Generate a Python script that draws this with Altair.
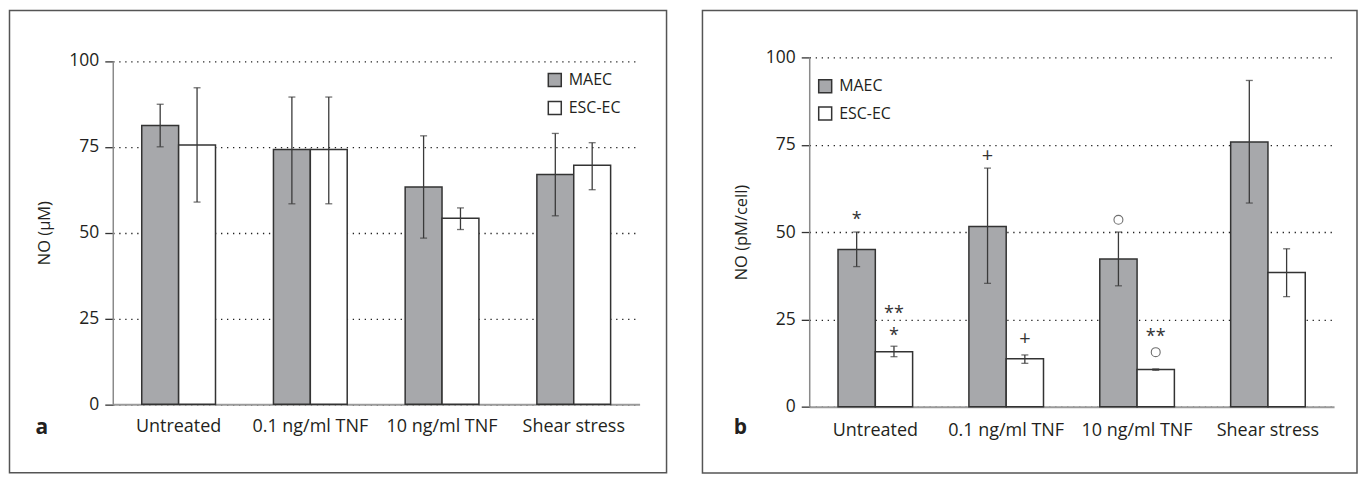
import altair as alt
import pandas as pd

conditions = ["Untreated", "0.1 ng/ml TNF", "10 ng/ml TNF", "Shear stress"]
series = ["MAEC", "ESC-EC"]
y_ticks = [0, 25, 50, 75, 100]

# Panel a: NO (µM)
a_maec = [81.2, 74.2, 63.3, 66.9]
a_maec_lo = [75.0, 58.4, 48.4, 54.9]
a_maec_hi = [87.4, 89.5, 78.2, 78.9]
a_esc = [75.5, 74.2, 54.2, 69.6]
a_esc_lo = [58.9, 58.4, 50.9, 62.5]
a_esc_hi = [92.2, 89.5, 57.2, 76.2]

# Panel b: NO (pM/cell)
b_maec = [45.0, 51.6, 42.3, 75.8]
b_maec_lo = [40.1, 35.3, 34.6, 58.3]
b_maec_hi = [50.0, 68.3, 50.0, 93.4]
b_esc = [15.7, 13.7, 10.6, 38.4]
b_esc_lo = [14.3, 12.4, 10.4, 31.5]
b_esc_hi = [17.3, 14.8, 10.8, 45.2]

# Significance marks in panel b
ann_cond = ["Untreated", "Untreated", "Untreated", "0.1 ng/ml TNF", "0.1 ng/ml TNF",
            "10 ng/ml TNF", "10 ng/ml TNF", "10 ng/ml TNF"]
ann_series = ["MAEC", "ESC-EC", "ESC-EC", "MAEC", "ESC-EC", "MAEC", "ESC-EC", "ESC-EC"]
ann_value = [54.2, 27.5, 21.0, 71.9, 19.4, 53.5, 20.9, 15.6]
ann_text = ["*", "**", "*", "+", "+", "o", "**", "o"]

FONT = "Open Sans"
BAR_GRAY = "#a7a8ab"
INK = "#333333"
TXT = "#231f20"


def panel_df(maec, maec_lo, maec_hi, esc, esc_lo, esc_hi):
    rows = []
    for i, c in enumerate(conditions):
        rows.append(dict(cond=c, series="MAEC", value=maec[i], lo=maec_lo[i], hi=maec_hi[i]))
        rows.append(dict(cond=c, series="ESC-EC", value=esc[i], lo=esc_lo[i], hi=esc_hi[i]))
    return pd.DataFrame(rows)


def make_panel(df, width, height, yrange, pad_inner, ytitle, letter, letter_xy,
               legend_xy, row_pad, frame, xlabel_pad, ann_df=None):
    xaxis = alt.Axis(title=None, ticks=False, labelAngle=0, labelFont=FONT, labelFontSize=18,
                     labelColor=TXT, labelPadding=xlabel_pad, domainColor="#9a9a9a",
                     domainWidth=2, grid=False)
    x = alt.X("cond:N", sort=conditions,
              scale=alt.Scale(domain=conditions, paddingInner=pad_inner, paddingOuter=0.22),
              axis=xaxis)
    xoff = alt.XOffset("series:N", sort=series,
                       scale=alt.Scale(domain=series, paddingInner=0, paddingOuter=0))
    yscale = alt.Scale(domain=[0, 100], nice=False, zero=True, range=yrange)
    yaxis = alt.Axis(values=y_ticks, title=ytitle, grid=True, gridDash=[1.3, 4.7],
                     gridColor="#222222", gridWidth=1.3, domainColor="#8a8a8a", domainWidth=1.5,
                     tickColor=INK, tickSize=8, tickWidth=1.3, labelFont=FONT,
                     labelFontSize=17.5, labelColor=TXT, labelPadding=6, titleFont=FONT,
                     titleFontSize=16.5, titleFontWeight="normal", titleColor=TXT,
                     titlePadding=16)

    one = pd.DataFrame({"k": [0]})
    frame_rect = alt.Chart(one).mark_rect(fill="white", fillOpacity=0, stroke="#555555",
                                          strokeWidth=1.5).encode(
        x=alt.value(frame[0]), x2=alt.value(frame[1]),
        y=alt.value(frame[2]), y2=alt.value(frame[3]))

    base = alt.Chart(df)
    bars = base.mark_bar(stroke=INK, strokeWidth=1.5).encode(
        x=x, xOffset=xoff,
        y=alt.Y("value:Q", scale=yscale, axis=yaxis),
        fill=alt.Fill("series:N", sort=series,
                      scale=alt.Scale(domain=series, range=[BAR_GRAY, "white"]),
                      legend=alt.Legend(title=None, orient="none", legendX=legend_xy[0],
                                        legendY=legend_xy[1], padding=0, symbolType="square",
                                        symbolSize=169, symbolStrokeColor=INK,
                                        symbolStrokeWidth=1.5, labelFont=FONT,
                                        labelFontSize=16, labelColor=TXT, labelOffset=6,
                                        rowPadding=row_pad)))
    rules = base.mark_rule(color="#3a3a3a", strokeWidth=1.3).encode(
        x=x, xOffset=xoff,
        y=alt.Y("lo:Q", scale=yscale, axis=yaxis), y2="hi:Q")
    cap_lo = base.mark_tick(color="#3a3a3a", size=7, thickness=1.3).encode(
        x=x, xOffset=xoff, y=alt.Y("lo:Q", scale=yscale, axis=yaxis))
    cap_hi = base.mark_tick(color="#3a3a3a", size=7, thickness=1.3).encode(
        x=x, xOffset=xoff, y=alt.Y("hi:Q", scale=yscale, axis=yaxis))
    letter_mark = alt.Chart(one).mark_text(text=letter, font=FONT, fontSize=21,
                                           fontWeight="bold", color=TXT, align="center",
                                           baseline="alphabetic").encode(
        x=alt.value(letter_xy[0]), y=alt.value(letter_xy[1]))

    layers = [frame_rect, bars, rules, cap_lo, cap_hi]
    if ann_df is not None:
        abase = alt.Chart(ann_df)
        stars = abase.transform_filter(
            (alt.datum.text == "*") | (alt.datum.text == "**")).mark_text(
            font=FONT, fontSize=18, color=INK, baseline="middle", dy=3).encode(
            x=x, xOffset=xoff, y=alt.Y("value:Q", scale=yscale, axis=yaxis), text="text:N")
        plus = abase.transform_filter(alt.datum.text == "+").mark_text(
            font=FONT, fontSize=20, color=INK, baseline="middle", dy=0).encode(
            x=x, xOffset=xoff, y=alt.Y("value:Q", scale=yscale, axis=yaxis), text="text:N")
        rings = abase.transform_filter(alt.datum.text == "o").mark_point(
            shape="circle", size=80, color=INK, strokeWidth=1.1, filled=False).encode(
            x=x, xOffset=xoff, y=alt.Y("value:Q", scale=yscale, axis=yaxis))
        layers += [stars, plus, rings]
    layers.append(letter_mark)
    return alt.layer(*layers).properties(width=width, height=height)


df_a = panel_df(a_maec, a_maec_lo, a_maec_hi, a_esc, a_esc_lo, a_esc_hi)
df_b = panel_df(b_maec, b_maec_lo, b_maec_hi, b_esc, b_esc_lo, b_esc_hi)
ann_df = pd.DataFrame({"cond": ann_cond, "series": ann_series, "value": ann_value,
                       "text": ann_text})

# both views share the same top; panel a's value range starts a little lower inside its view
panel_a = make_panel(df_a, 528, 347.6, [347.6, 3.6], 0.44, "NO (µM)", "a", (-71, 377),
                     (435, 14.6), 8, (-103.5, 555, -47, 416.3), 13)
panel_b = make_panel(df_b, 526, 350, [350, 0], 0.43, "NO (pM/cell)", "b", (-69, 377),
                     (8, 21), 7.3, (-107, 549, -47, 416.5), 14.5, ann_df)

chart = alt.hconcat(panel_a, panel_b, spacing=32).resolve_scale(
    x="independent", y="independent", fill="independent", xOffset="independent"
).resolve_legend(fill="independent").configure_view(stroke="transparent").properties(padding=0)

chart.save("out.html", embed_options={"renderer": "svg", "actions": False})
